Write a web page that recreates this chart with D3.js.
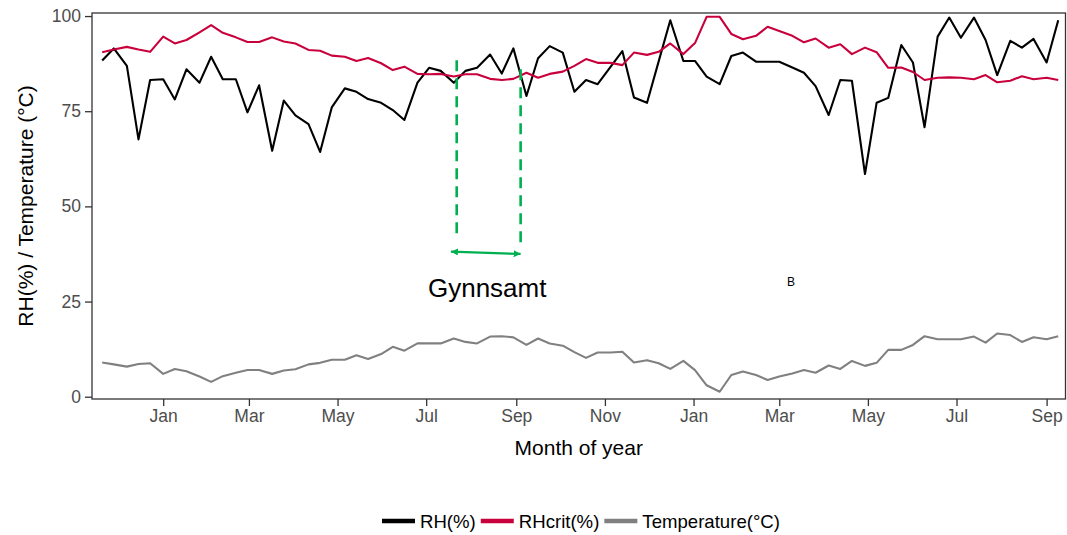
<!DOCTYPE html>
<html>
<head>
<meta charset="utf-8">
<script src="https://cdn.jsdelivr.net/npm/d3@7"></script>
<style>
  body { margin: 0; background: #fff; }
  svg { font-family: "Liberation Sans", Arial, sans-serif; }
</style>
</head>
<body>
<div id="chart"></div>
<script>
// sampling dates of the three series
const dates = [
  '2016-11-20', '2016-11-28', '2016-12-07', '2016-12-15', '2016-12-23', '2017-01-01', '2017-01-09', '2017-01-17',
  '2017-01-26', '2017-02-03', '2017-02-11', '2017-02-20', '2017-02-28', '2017-03-08', '2017-03-17', '2017-03-25',
  '2017-04-02', '2017-04-11', '2017-04-19', '2017-04-27', '2017-05-06', '2017-05-14', '2017-05-22', '2017-05-31',
  '2017-06-08', '2017-06-16', '2017-06-25', '2017-07-03', '2017-07-11', '2017-07-20', '2017-07-28', '2017-08-05',
  '2017-08-14', '2017-08-22', '2017-08-30', '2017-09-08', '2017-09-16', '2017-09-24', '2017-10-03', '2017-10-11',
  '2017-10-19', '2017-10-27', '2017-11-05', '2017-11-13', '2017-11-21', '2017-11-30', '2017-12-08', '2017-12-16',
  '2017-12-25', '2018-01-02', '2018-01-10', '2018-01-19', '2018-01-27', '2018-02-04', '2018-02-13', '2018-02-21',
  '2018-03-01', '2018-03-10', '2018-03-18', '2018-03-26', '2018-04-04', '2018-04-12', '2018-04-20', '2018-04-29',
  '2018-05-07', '2018-05-15', '2018-05-24', '2018-06-01', '2018-06-09', '2018-06-18', '2018-06-26', '2018-07-04',
  '2018-07-13', '2018-07-21', '2018-07-29', '2018-08-07', '2018-08-15', '2018-08-23', '2018-09-01', '2018-09-09'
];

const rh = [
  88.3, 91.5, 86.9, 67.6, 83.2, 83.4, 78.1, 86.0, 82.5, 89.3,
  83.4, 83.4, 74.7, 81.8, 64.6, 77.8, 73.9, 71.6, 64.3, 76.0,
  81.0, 80.1, 78.2, 77.2, 75.3, 72.7, 82.5, 86.4, 85.6, 82.5,
  85.6, 86.4, 89.9, 84.9, 91.5, 79.0, 88.9, 92.1, 90.4, 80.1,
  83.2, 82.1, 86.7, 90.8, 78.6, 77.2, 88.1, 98.9, 88.2, 88.2,
  84.1, 82.1, 89.5, 90.4, 88.0, 88.0, 88.0, 86.5, 85.1, 81.6,
  74.0, 83.2, 83.0, 58.5, 77.2, 78.5, 92.4, 87.8, 70.8, 94.6,
  99.6, 94.3, 99.6, 93.7, 84.5, 93.5, 91.7, 94.0, 87.8, 98.9
];

const rhCrit = [
  90.5, 91.2, 91.9, 91.2, 90.6, 94.6, 92.8, 93.7, 95.7, 97.6,
  95.6, 94.4, 93.2, 93.2, 94.4, 93.3, 92.8, 91.1, 90.9, 89.6,
  89.3, 88.2, 89.0, 87.6, 85.8, 86.7, 84.8, 84.7, 84.8, 84.1,
  84.7, 84.7, 83.5, 83.2, 83.5, 85.1, 83.8, 84.8, 85.4, 86.9,
  88.7, 87.7, 87.7, 87.1, 90.4, 89.8, 90.6, 92.8, 90.0, 92.9,
  99.8, 99.8, 95.3, 93.9, 94.8, 97.2, 96.1, 94.8, 93.1, 94.1,
  91.7, 92.6, 90.0, 91.7, 90.5, 86.4, 86.5, 85.3, 83.2, 83.8,
  83.9, 83.8, 83.4, 84.5, 82.6, 83.0, 84.2, 83.4, 83.8, 83.2
];

const temperature = [
  9.0, 8.5, 7.9, 8.6, 8.8, 6.0, 7.3, 6.7, 5.3, 3.9,
  5.4, 6.3, 7.0, 7.0, 6.0, 6.9, 7.2, 8.5, 8.9, 9.7,
  9.7, 10.9, 9.9, 11.2, 13.1, 12.1, 14.0, 14.0, 14.0, 15.3,
  14.4, 14.0, 15.8, 15.9, 15.6, 13.6, 15.3, 14.0, 13.4, 11.7,
  10.2, 11.6, 11.6, 11.8, 9.0, 9.6, 8.8, 7.3, 9.4, 7.0,
  3.0, 1.3, 5.7, 6.6, 5.7, 4.4, 5.3, 6.1, 7.0, 6.3,
  8.2, 7.3, 9.4, 8.1, 8.9, 12.3, 12.3, 13.6, 15.9, 15.1,
  15.1, 15.1, 15.8, 14.2, 16.6, 16.2, 14.4, 15.6, 15.1, 15.9
];

const seriesNames = ['RH(%)', 'RHcrit(%)', 'Temperature(°C)'];
const seriesColors = ['#000000', '#C8003C', '#808080'];

const xTicks = ['2017-01-01', '2017-03-01', '2017-05-01', '2017-07-01', '2017-09-01', '2017-11-01',
  '2018-01-01', '2018-03-01', '2018-05-01', '2018-07-01', '2018-09-01'];
const yTicks = [0, 25, 50, 75, 100];

// green "Gynnsamt" period markers
const periodLines = [
  { date: '2017-07-22', from: 42.0, to: 88.4 },
  { date: '2017-09-04', from: 39.8, to: 86.0 }
];
const periodArrow = [{ date: '2017-07-18', y: 38.1 }, { date: '2017-09-04', y: 37.5 }];

const W = 1067, H = 535;
const margin = { top: 13, right: 1.5, bottom: 136, left: 92 };
const width = W - margin.left - margin.right;
const height = H - margin.top - margin.bottom;
const parse = d3.utcParse('%Y-%m-%d');

const svg = d3.select('#chart').append('svg')
  .attr('width', W)
  .attr('height', H);

const g = svg.append('g')
  .attr('transform', `translate(${margin.left},${margin.top})`);

const x = d3.scaleUtc()
  .domain([parse('2016-11-13'), parse('2018-09-14')])
  .range([0, width]);
const y = d3.scaleLinear()
  .domain([-0.6, 100.8])
  .range([height, 0]);

const series = [rh, rhCrit, temperature].map((vals, i) => ({
  name: seriesNames[i],
  color: seriesColors[i],
  values: vals.map((v, j) => ({ date: parse(dates[j]), value: v }))
}));

const line = d3.line()
  .x(d => x(d.date))
  .y(d => y(d.value));

g.selectAll('.series')
  .data(series)
  .enter()
  .append('path')
  .attr('class', 'series')
  .attr('fill', 'none')
  .attr('stroke', d => d.color)
  .attr('stroke-width', 2.1)
  .attr('stroke-linejoin', 'round')
  .attr('d', d => line(d.values));

// annotation
const green = '#00B050';
g.selectAll('.period')
  .data(periodLines)
  .enter()
  .append('line')
  .attr('class', 'period')
  .attr('x1', d => x(parse(d.date)))
  .attr('x2', d => x(parse(d.date)))
  .attr('y1', d => y(d.to))
  .attr('y2', d => y(d.from))
  .attr('stroke', green)
  .attr('stroke-width', 2.6)
  .attr('stroke-dasharray', '11,7');

const defs = svg.append('defs');
['start', 'end'].forEach(k => {
  defs.append('marker')
    .attr('id', 'arrow-' + k)
    .attr('viewBox', '0 0 10 10')
    .attr('refX', 10).attr('refY', 5)
    .attr('markerWidth', 3.2).attr('markerHeight', 3.2)
    .attr('markerUnits', 'strokeWidth')
    .attr('orient', k === 'start' ? 'auto-start-reverse' : 'auto')
    .append('path')
    .attr('d', 'M0,0L10,5L0,10z')
    .attr('fill', green);
});

g.append('line')
  .attr('x1', x(parse(periodArrow[0].date)))
  .attr('y1', y(periodArrow[0].y))
  .attr('x2', x(parse(periodArrow[1].date)))
  .attr('y2', y(periodArrow[1].y))
  .attr('stroke', green)
  .attr('stroke-width', 2.2)
  .attr('marker-start', 'url(#arrow-start)')
  .attr('marker-end', 'url(#arrow-end)');

g.append('text')
  .attr('x', x(parse('2017-08-12')))
  .attr('y', y(26.2))
  .attr('text-anchor', 'middle')
  .attr('font-size', 26)
  .attr('fill', '#000')
  .text('Gynnsamt');

g.append('text')
  .attr('x', x(parse('2018-03-09')))
  .attr('y', y(29.1))
  .attr('text-anchor', 'middle')
  .attr('font-size', 12)
  .attr('fill', '#000')
  .text('B');

// panel border
g.append('rect')
  .attr('width', width)
  .attr('height', height)
  .attr('fill', 'none')
  .attr('stroke', '#333333')
  .attr('stroke-width', 1.3);

// axes
const xAxis = g.append('g')
  .attr('class', 'axis axis-x')
  .attr('transform', `translate(0,${height})`)
  .call(d3.axisBottom(x)
    .tickValues(xTicks.map(parse))
    .tickFormat(d3.utcFormat('%b'))
    .tickSize(7)
    .tickPadding(4));

const yAxis = g.append('g')
  .attr('class', 'axis axis-y')
  .call(d3.axisLeft(y)
    .tickValues(yTicks)
    .tickSize(7)
    .tickPadding(4));

[xAxis, yAxis].forEach(a => {
  a.select('.domain').remove();
  a.selectAll('.tick line').attr('stroke', '#333333').attr('stroke-width', 1.3);
  a.selectAll('.tick text')
    .attr('fill', '#4D4D4D')
    .attr('font-size', 17.5)
    .attr('font-family', '"Liberation Sans", Arial, sans-serif');
});

svg.append('text')
  .attr('x', margin.left + width / 2)
  .attr('y', 455)
  .attr('text-anchor', 'middle')
  .attr('font-size', 21)
  .text('Month of year');

svg.append('text')
  .attr('transform', `translate(33,${margin.top + height / 2}) rotate(-90)`)
  .attr('text-anchor', 'middle')
  .attr('font-size', 21)
  .text('RH(%) / Temperature (°C)');

// legend
const legend = svg.append('g')
  .attr('class', 'legend')
  .attr('transform', 'translate(0,521)');

let lx = 382;
series.forEach(s => {
  const item = legend.append('g').attr('transform', `translate(${lx},0)`);
  item.append('line')
    .attr('x1', 0).attr('x2', 33)
    .attr('stroke', s.color)
    .attr('stroke-width', 4.5);
  const t = item.append('text')
    .attr('x', 38)
    .attr('dy', '0.35em')
    .attr('font-size', 18.6)
    .text(s.name);
  lx += 38 + t.node().getComputedTextLength() + 5;
});
</script>
</body>
</html>
